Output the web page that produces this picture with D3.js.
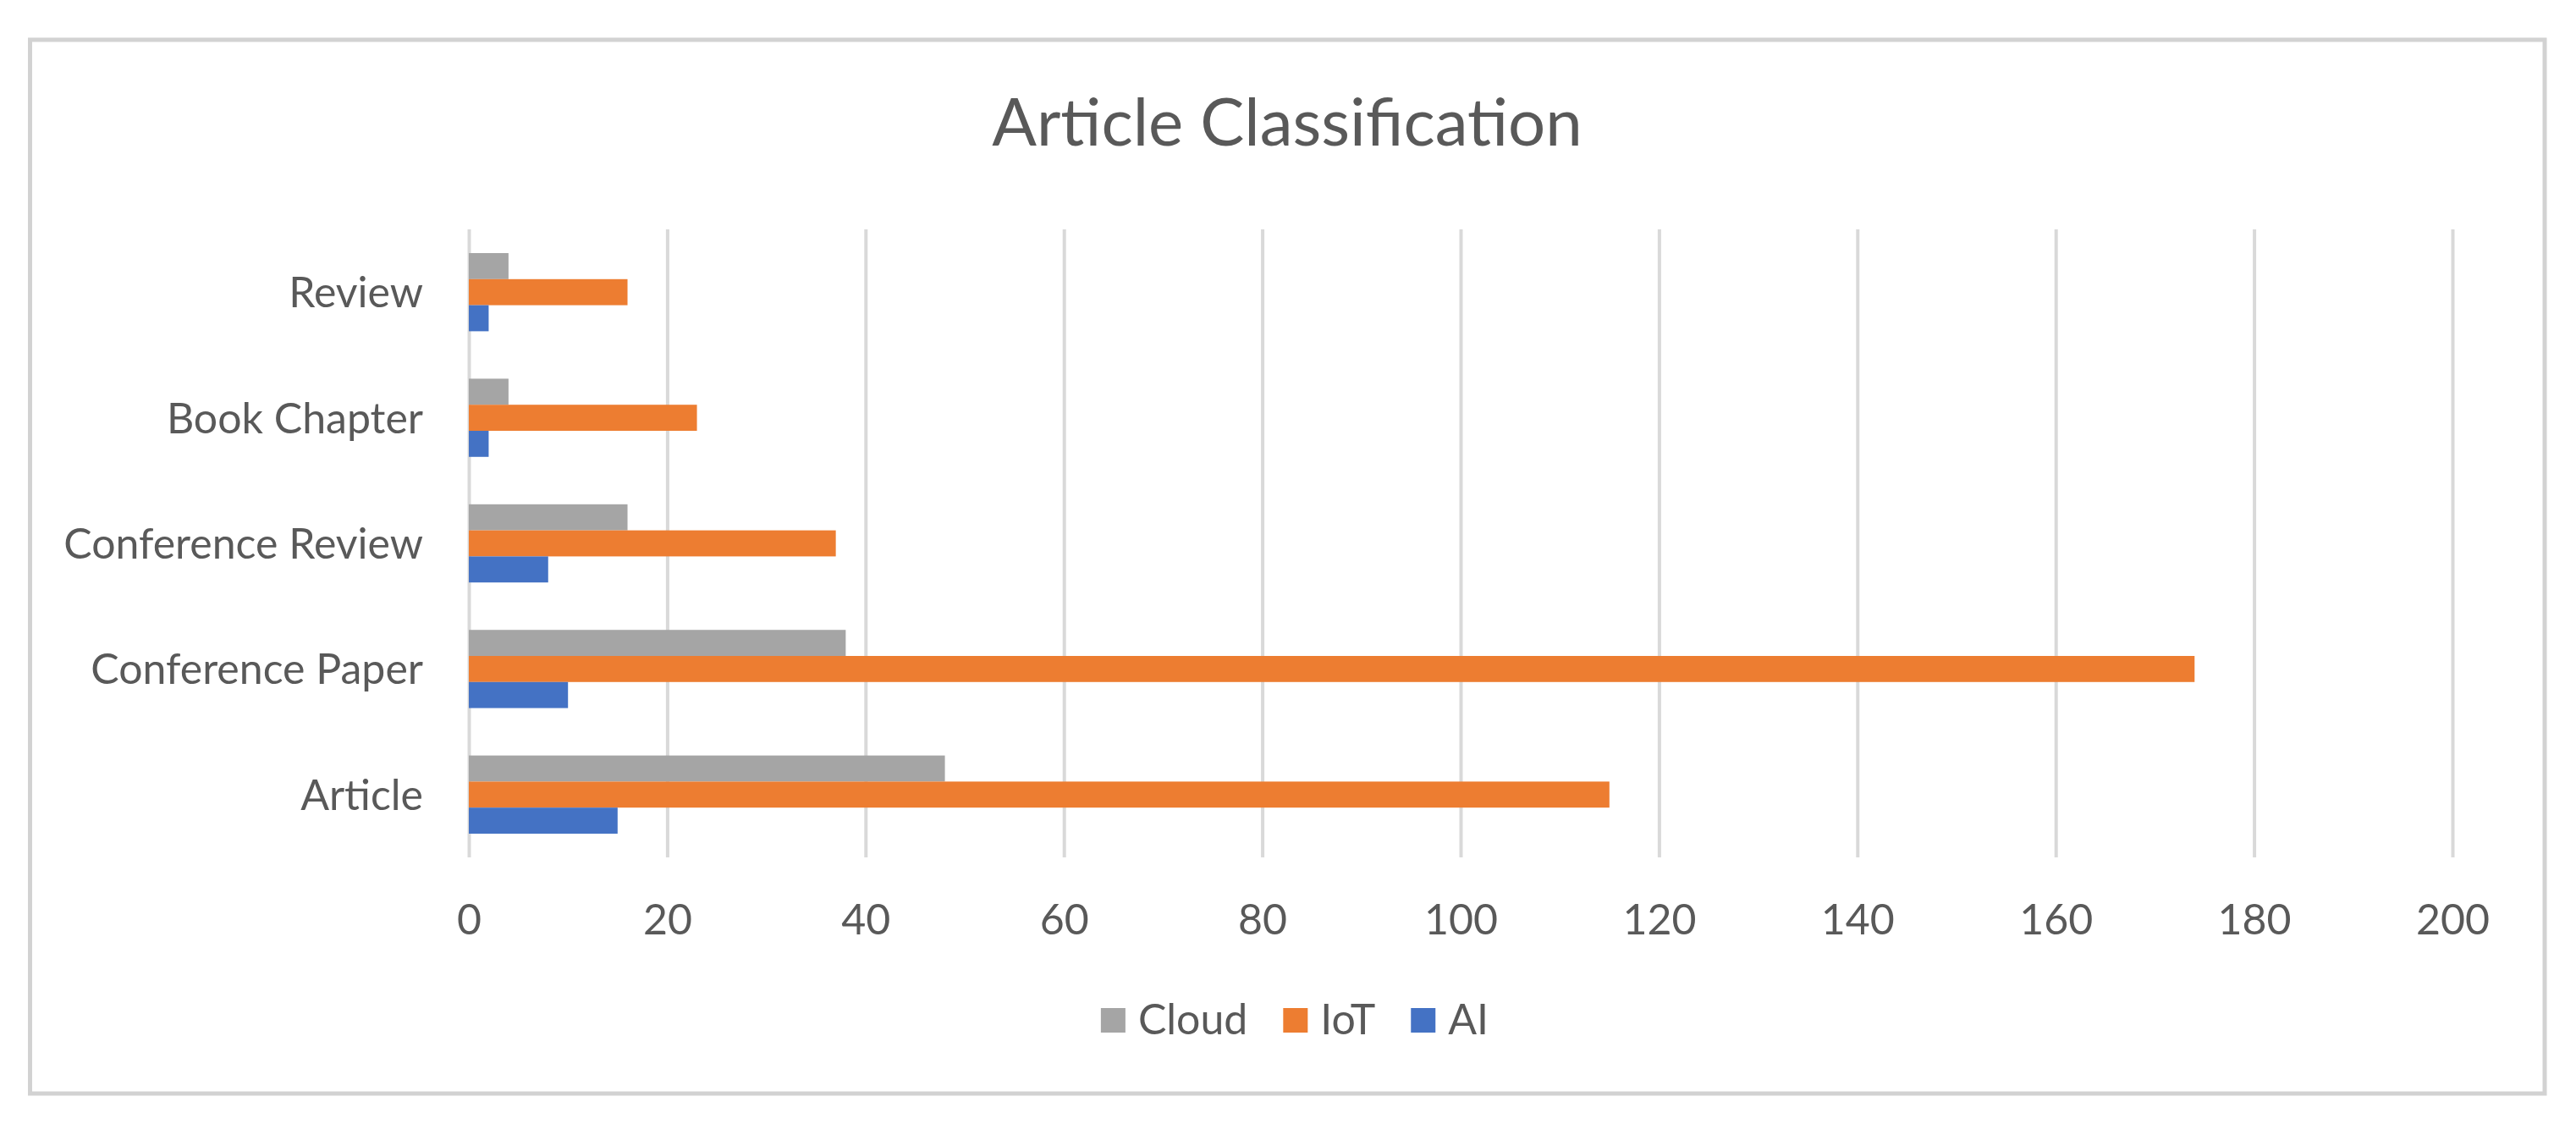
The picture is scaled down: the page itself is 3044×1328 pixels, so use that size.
<!DOCTYPE html>
<html>
<head>
<meta charset="utf-8">
<script src="https://cdn.jsdelivr.net/npm/d3@7"></script>
<style>
  html, body { margin: 0; padding: 0; background: #ffffff; }
  svg { display: block; }
  text { font-family: Lato, "Open Sans", sans-serif; fill: #595959; }
</style>
</head>
<body>
<svg id="chart" width="3044" height="1328"></svg>
<script>
// ---- data ----
const title = "Article Classification";
const categories = ["Article", "Conference Paper", "Conference Review", "Book Chapter", "Review"];
const seriesNames = ["Cloud", "IoT", "AI"];
const cloudValues = [48, 38, 16, 4, 4];
const iotValues = [115, 174, 37, 23, 16];
const aiValues = [15, 10, 8, 2, 2];
const xTicks = [0, 20, 40, 60, 80, 100, 120, 140, 160, 180, 200];
const seriesColors = ["#A5A5A5", "#ED7D31", "#4472C4"];

const seriesValues = { "Cloud": cloudValues, "IoT": iotValues, "AI": aiValues };
const rows = categories.map((c, i) => ({
  category: c,
  values: seriesNames.map(s => ({ series: s, value: seriesValues[s][i] }))
}));

// ---- layout ----
const W = 3044, H = 1328;
const frame = { x: 35.5, y: 47, w: 2971.5, h: 1245 };
const plot = { left: 554, right: 2898, top: 271, bottom: 1013 };

const svg = d3.select("#chart");
svg.append("rect").attr("width", W).attr("height", H).attr("fill", "#ffffff");
svg.append("rect")
  .attr("x", frame.x).attr("y", frame.y).attr("width", frame.w).attr("height", frame.h)
  .attr("fill", "#ffffff").attr("stroke", "#d2d2d2").attr("stroke-width", 5);

// scales
const x = d3.scaleLinear().domain([0, 200]).range([plot.left, plot.right]);
const y = d3.scaleBand()
  .domain(categories.slice().reverse())
  .range([plot.top, plot.bottom])
  .paddingInner(0.3776)
  .paddingOuter(0.1888);
const yInner = d3.scaleBand().domain(seriesNames).range([0, y.bandwidth()]);
const color = d3.scaleOrdinal().domain(seriesNames).range(seriesColors);

// gridlines
const grid = svg.append("g")
  .attr("transform", `translate(0,${plot.bottom})`)
  .call(d3.axisBottom(x).tickValues(xTicks).tickSize(-(plot.bottom - plot.top)).tickFormat(""));
grid.select(".domain").remove();
grid.selectAll(".tick line").attr("stroke", "#d9d9d9").attr("stroke-width", 4);

// bars
const groups = svg.append("g").selectAll("g.grp")
  .data(rows).join("g")
  .attr("class", "grp")
  .attr("transform", d => `translate(0,${y(d.category)})`);
groups.selectAll("rect")
  .data(d => d.values).join("rect")
  .attr("x", x(0))
  .attr("y", d => yInner(d.series))
  .attr("width", d => x(d.value) - x(0))
  .attr("height", yInner.bandwidth())
  .attr("fill", d => color(d.series));

// x axis labels
const xAxis = svg.append("g")
  .attr("transform", `translate(0,${plot.bottom})`)
  .call(d3.axisBottom(x).tickValues(xTicks).tickSize(0).tickPadding(0).tickFormat(d3.format("d")));
xAxis.select(".domain").remove();
xAxis.selectAll("text")
  .attr("font-size", 50)
  .attr("y", 91)
  .attr("dy", 0)
  .style("font-family", "Lato")
  .attr("fill", "#595959");

// y axis labels
const yAxis = svg.append("g")
  .attr("transform", `translate(${plot.left},0)`)
  .call(d3.axisLeft(y).tickSize(0).tickPadding(54));
yAxis.select(".domain").remove();
yAxis.selectAll("text")
  .attr("font-size", 50)
  .attr("dy", "0.36em")
  .style("font-family", "Lato")
  .attr("fill", "#595959");

// title
svg.append("text")
  .attr("x", 1521).attr("y", 172)
  .attr("text-anchor", "middle")
  .attr("font-size", 78)
  .text(title);

// legend
const legend = svg.append("g");
const legItems = legend.selectAll("g").data(seriesNames).join("g");
legItems.append("rect")
  .attr("width", 29).attr("height", 29)
  .attr("y", -31)
  .attr("fill", d => color(d));
legItems.append("text")
  .attr("x", 44).attr("y", 0)
  .attr("font-size", 50)
  .text(d => d);
let cursor = 0;
legItems.each(function () {
  const g = d3.select(this);
  const w = g.select("text").node().getComputedTextLength() + 44;
  g.attr("transform", `translate(${cursor},0)`);
  cursor += w + 42;
});
const legendWidth = cursor - 42;
legend.attr("transform", `translate(${1530 - legendWidth / 2},1222)`);
</script>
</body>
</html>
